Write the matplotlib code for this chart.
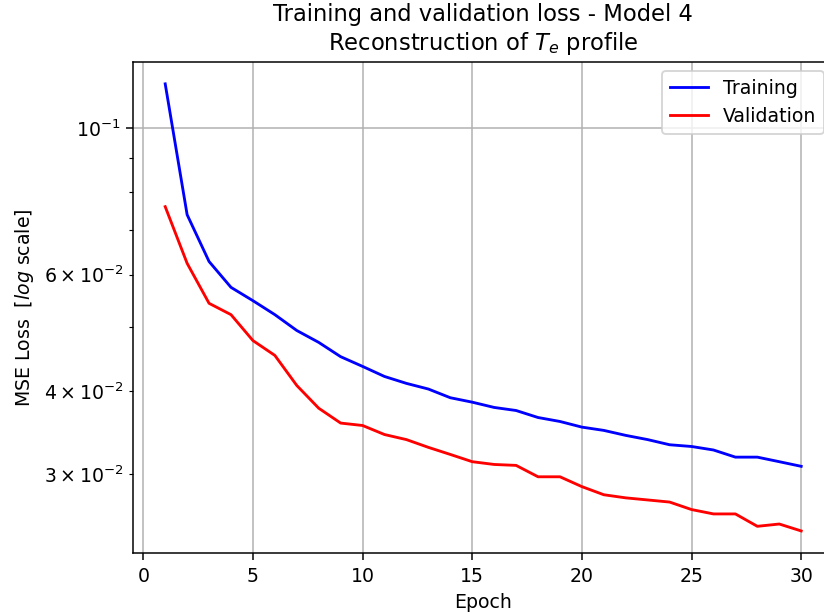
import numpy as np
import matplotlib
matplotlib.use('Agg')
import matplotlib.pyplot as plt

epochs = np.arange(1, 31)
train_loss = [0.1165, 0.0739, 0.0628, 0.0574, 0.0548, 0.0522, 0.0494, 0.0474, 0.0451, 0.0436,
              0.0421, 0.0411, 0.0403, 0.0391, 0.0385, 0.0378, 0.0374, 0.0365, 0.0360, 0.0353,
              0.0349, 0.0343, 0.0338, 0.0332, 0.0330, 0.0326, 0.0318, 0.0318, 0.0313, 0.0308]
val_loss = [0.0760, 0.0624, 0.0543, 0.0522, 0.0477, 0.0453, 0.0408, 0.0377, 0.0358, 0.0355,
            0.0344, 0.0338, 0.0329, 0.0321, 0.0313, 0.0310, 0.0309, 0.0297, 0.0297, 0.0287,
            0.0279, 0.0276, 0.0274, 0.0272, 0.0265, 0.0261, 0.0261, 0.0250, 0.0252, 0.0246]

dpi = 136
W, H = 824, 614
fig = plt.figure(figsize=(W / dpi, H / dpi), dpi=dpi)
# axes runs past the right edge of the saved image (right spine cropped off)
left, right, top, bottom = 133.4, 833.0, 61.5, 553.3
ax = fig.add_axes([left / W, 1 - bottom / H, (right - left) / W, (bottom - top) / H])
ax.plot(epochs, train_loss, color='blue', label='Training')
ax.plot(epochs, val_loss, color='red', label='Validation')
ax.set_yscale('log')
ax.grid(True)
ax.set_title('Training and validation loss - Model 4\nReconstruction of $T_e$ profile')
ax.set_xlabel('Epoch')
ax.set_ylabel('MSE Loss  [$log$ scale]')
ax.legend(loc='upper right')
fig.savefig('out.png', dpi=dpi)
